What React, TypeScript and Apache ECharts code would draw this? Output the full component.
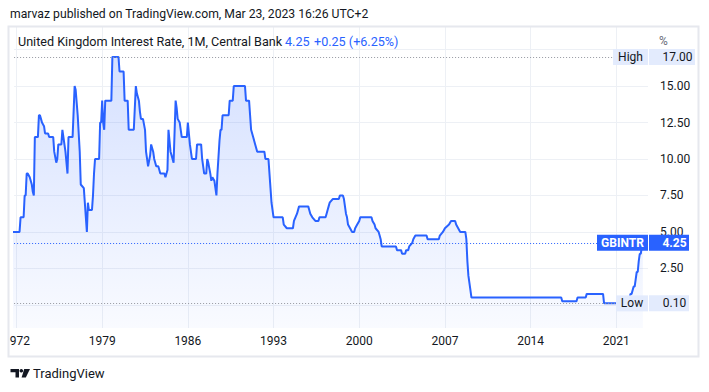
import React, { useEffect, useRef } from "react";
import * as echarts from "echarts";

// ---- data (vertices) ----
const months = [
  "1971-09", "1972-04", "1972-05", "1972-08", "1972-09", "1972-10", "1972-11", "1972-12",
  "1973-02", "1973-04", "1973-05", "1973-06", "1973-07", "1973-10", "1973-11", "1973-12",
  "1974-01", "1974-02", "1974-04", "1974-05", "1974-08", "1974-09", "1975-01", "1975-02",
  "1975-04", "1975-05", "1975-06", "1975-09", "1975-10", "1975-11", "1976-01", "1976-03",
  "1976-04", "1976-08", "1976-10", "1976-11", "1977-01", "1977-03", "1977-04", "1977-07",
  "1977-08", "1977-09", "1977-10", "1977-11", "1977-12", "1978-03", "1978-04", "1978-05",
  "1978-06", "1978-10", "1978-11", "1978-12", "1979-01", "1979-02", "1979-03", "1979-04",
  "1979-10", "1979-11", "1980-05", "1980-06", "1980-10", "1980-11", "1981-02", "1981-03",
  "1981-08", "1981-10", "1981-11", "1982-01", "1982-02", "1982-03", "1982-05", "1982-07",
  "1982-08", "1982-09", "1982-10", "1982-12", "1983-01", "1983-03", "1983-04", "1983-06",
  "1983-08", "1983-10", "1984-02", "1984-03", "1984-05", "1984-06", "1984-08", "1984-09",
  "1984-11", "1985-01", "1985-02", "1985-03", "1985-05", "1985-07", "1985-12", "1986-01",
  "1986-03", "1986-05", "1986-09", "1986-10", "1987-02", "1987-03", "1987-05", "1987-07",
  "1987-08", "1987-09", "1987-11", "1987-12", "1988-01", "1988-03", "1988-04", "1988-05",
  "1988-06", "1988-08", "1988-09", "1988-10", "1988-11", "1989-05", "1989-06", "1989-09",
  "1989-10", "1990-09", "1990-10", "1991-01", "1991-02", "1991-03", "1991-05", "1991-07",
  "1991-09", "1992-04", "1992-05", "1992-08", "1992-10", "1992-11", "1993-01", "1993-10",
  "1993-11", "1994-02", "1994-08", "1994-09", "1994-12", "1995-02", "1995-11", "1995-12",
  "1996-01", "1996-03", "1996-06", "1996-09", "1996-10", "1997-04", "1997-05", "1997-06",
  "1997-07", "1997-08", "1997-11", "1998-05", "1998-06", "1998-09", "1998-10", "1998-11",
  "1998-12", "1999-01", "1999-02", "1999-04", "1999-06", "1999-08", "1999-09", "1999-11",
  "2000-01", "2000-02", "2001-01", "2001-02", "2001-04", "2001-05", "2001-08", "2001-09",
  "2001-10", "2001-11", "2003-01", "2003-02", "2003-06", "2003-07", "2003-10", "2003-11",
  "2004-01", "2004-02", "2004-05", "2004-06", "2004-08", "2005-07", "2005-08", "2006-07",
  "2006-08", "2006-11", "2007-01", "2007-05", "2007-07", "2007-11", "2007-12", "2008-02",
  "2008-04", "2008-09", "2008-10", "2008-11", "2008-12", "2009-01", "2009-02", "2009-03",
  "2016-07", "2016-08", "2017-10", "2017-11", "2018-07", "2018-08", "2019-12", "2020-01",
  "2021-11", "2021-12", "2022-01", "2022-02", "2022-03", "2022-04", "2022-05", "2022-06",
  "2022-07", "2022-08", "2022-09", "2022-10", "2022-11", "2022-12", "2023-01", "2023-02",
  "2023-03",
];
const rates = [
  5, 5, 6, 6, 7.5, 7.5, 9, 9,
  8.75, 8.25, 7.75, 7.5, 11.5, 11.5, 13, 13,
  12.75, 12.5, 12.25, 11.75, 11.75, 11.5, 11.5, 10.5,
  9.75, 10, 11, 11, 12, 11.5, 10.5, 9,
  11.5, 11.5, 15, 14.75, 13, 10.5, 8.25, 8,
  7, 6, 5, 7, 6.5, 6.5, 7.5, 9,
  10, 10, 12.5, 12.5, 14, 12.5, 12, 14,
  14, 17, 17, 16, 16, 14, 14, 12,
  12, 15, 14.5, 14, 13.25, 12.75, 12.75, 12,
  10.5, 10, 9.5, 10.25, 11, 10.5, 10, 9.5,
  9.5, 9, 9, 8.75, 9.25, 12, 10.5, 10.25,
  9.75, 14, 13.5, 12.75, 12.5, 11.5, 11.5, 12.5,
  11, 10, 10, 11, 11, 10, 9, 9,
  10, 9.75, 9, 8.5, 8.75, 8.5, 8, 7.5,
  9, 11.25, 12, 12, 13, 13, 14, 14,
  15, 15, 14, 14, 13, 12, 11.5, 11,
  10.5, 10.5, 10, 10, 8, 7, 6, 6,
  5.5, 5.25, 5.25, 5.75, 6.25, 6.75, 6.75, 6.5,
  6.25, 6, 5.75, 5.75, 6, 6, 6.25, 6.5,
  6.75, 7, 7.25, 7.25, 7.5, 7.5, 7.25, 6.75,
  6.25, 6, 5.5, 5.25, 5, 5, 5.25, 5.5,
  5.75, 6, 6, 5.75, 5.5, 5.25, 5, 4.75,
  4.5, 4, 4, 3.75, 3.75, 3.5, 3.5, 3.75,
  3.75, 4, 4.25, 4.5, 4.75, 4.75, 4.5, 4.5,
  4.75, 5, 5.25, 5.5, 5.75, 5.75, 5.5, 5.25,
  5, 5, 4.5, 3, 2, 1.5, 1, 0.5,
  0.5, 0.25, 0.25, 0.5, 0.5, 0.75, 0.75, 0.1,
  0.1, 0.25, 0.25, 0.5, 0.75, 0.75, 1, 1.25,
  1.25, 1.75, 2.25, 2.25, 3, 3.5, 3.5, 4,
  4.25,
];
const yearTicks = [1972, 1979, 1986, 1993, 2000, 2007, 2014, 2021];
const priceTicks = [2.5, 5, 7.5, 10, 12.5, 15];
const priceGrid = [0, 2.5, 5, 7.5, 10, 12.5, 15, 17.5];
const highValue = 17;
const lowValue = 0.1;
const lastValue = 4.25;
const changeText = "+0.25 (+6.25%)";
const tickerName = "GBINTR";
const titleText = "United Kingdom Interest Rate, 1M, Central Bank";
const headerText = "marvaz published on TradingView.com, Mar 23, 2023 16:26 UTC+2";

const FONT = "Roboto, 'Open Sans', sans-serif";
const BLUE = "#2962ff";
const DARK = "#131722";
const LABEL_BG = "#e3ebfd";
const GRID = "#edf0f5";

const toYear = (m: string) => {
  const [y, mo] = m.split("-").map(Number);
  return y + (mo - 1) / 12;
};

export default function App() {
  const ref = useRef<HTMLDivElement>(null);
  useEffect(() => {
    if (!ref.current) return;
    const chart = echarts.init(ref.current, null, { renderer: "svg" });
    const data = months.map((m, i) => [toYear(m), rates[i]]);

    const boxLabel = (name: string, value: number, nameW: number, valueW: number, filled: boolean) => ({
      show: true,
      position: "end",
      distance: -nameW,
      formatter: `{a|${name}}{g|}{b|${value.toFixed(2)}}`,
      rich: {
        a: {
          backgroundColor: filled ? BLUE : LABEL_BG,
          color: filled ? "#ffffff" : DARK,
          fontFamily: FONT,
          fontSize: 12,
          fontWeight: filled ? "bold" : "normal",
          width: nameW,
          height: 16,
          lineHeight: 16,
          align: "center",
        },
        g: { width: 1, height: 16 },
        b: {
          backgroundColor: filled ? BLUE : LABEL_BG,
          color: filled ? "#ffffff" : DARK,
          fontFamily: FONT,
          fontSize: 12,
          fontWeight: filled ? "bold" : "normal",
          width: valueW - 11,
          height: 16,
          lineHeight: 16,
          padding: [0, 0, 0, 11],
          align: "left",
        },
      },
    });

    const option: any = {
      animation: false,
      grid: { left: 9.5, right: 61, top: 27, bottom: 64, containLabel: false },
      xAxis: {
        type: "value",
        min: 1971.805,
        max: 2023.589,
        axisLine: { show: false },
        axisTick: { show: false, customValues: yearTicks },
        splitLine: { show: true, lineStyle: { color: GRID, width: 1, type: "solid" } },
        axisLabel: {
          customValues: yearTicks,
          formatter: (v: number) => String(v),
          color: DARK,
          fontSize: 12,
          fontFamily: FONT,
          margin: 7,
        },
      },
      yAxis: {
        type: "value",
        position: "right",
        min: -1.59,
        max: 19.05,
        axisLine: { show: false },
        axisTick: { show: false, customValues: priceGrid },
        splitLine: { show: true, lineStyle: { color: GRID, width: 1, type: "solid" } },
        axisLabel: {
          customValues: priceTicks,
          formatter: (v: number) => v.toFixed(2),
          color: DARK,
          fontSize: 12,
          fontFamily: FONT,
          margin: 12,
        },
      },
      series: [
        {
          type: "line",
          data,
          z: 2,
          showSymbol: false,
          symbol: "none",
          lineStyle: { color: BLUE, width: 2 },
          areaStyle: {
            origin: "start",
            color: new echarts.graphic.LinearGradient(0, 0, 0, 1, [
              { offset: 0, color: "rgba(41,98,255,0.28)" },
              { offset: 1, color: "rgba(41,98,255,0.04)" },
            ]),
          },
        },
        {
          type: "line",
          data: [],
          z: 5,
          silent: true,
          markLine: {
            silent: true,
            symbol: ["none", "none"],
            data: [
              {
                yAxis: highValue,
                lineStyle: { color: "#9598a1", width: 1, type: [1, 2] },
                label: boxLabel("High", highValue, 35, 46, false),
              },
              {
                yAxis: lowValue,
                lineStyle: { color: "#9598a1", width: 1, type: [1, 2] },
                label: boxLabel("Low", lowValue, 32, 40, false),
              },
              {
                yAxis: lastValue,
                lineStyle: { color: BLUE, width: 1, type: [1, 2] },
                label: boxLabel(tickerName, lastValue, 51, 40, true),
              },
            ],
          },
        },
      ],
      graphic: [
        {
          type: "rect",
          z: 100,
          shape: { x: 0, y: 328, width: 9, height: 29 },
          style: { fill: "#ffffff" },
        },
        {
          type: "rect",
          z: 101,
          shape: { x: 8.5, y: 26.5, width: 690, height: 330 },
          style: { fill: "none", stroke: "#e6e8ee", lineWidth: 2 },
        },
        {
          type: "text",
          z: 101,
          x: 10,
          y: 14,
          style: { text: headerText, fill: DARK, font: `12.2px ${FONT}`, verticalAlign: "middle" },
        },
        {
          type: "text",
          z: 101,
          x: 18,
          y: 41,
          style: { text: titleText, fill: DARK, font: `12.6px ${FONT}`, verticalAlign: "middle" },
        },
        {
          type: "text",
          z: 101,
          x: 285,
          y: 41,
          style: { text: lastValue.toFixed(2), fill: BLUE, font: `12.6px ${FONT}`, verticalAlign: "middle" },
        },
        {
          type: "text",
          z: 101,
          x: 314,
          y: 41,
          style: { text: changeText, fill: BLUE, font: `12.6px ${FONT}`, verticalAlign: "middle" },
        },
        {
          type: "text",
          z: 101,
          x: 659,
          y: 41,
          style: { text: "%", fill: "#6a6d78", font: `12px ${FONT}`, verticalAlign: "middle" },
        },
        {
          type: "polygon",
          z: 101,
          shape: { points: [[10.5, 369], [19, 369], [19, 377.5], [15.5, 377.5], [15.5, 372.3], [10.5, 372.3]] },
          style: { fill: DARK },
        },
        {
          type: "circle",
          z: 101,
          shape: { cx: 21.3, cy: 370.8, r: 1.8 },
          style: { fill: DARK },
        },
        {
          type: "polygon",
          z: 101,
          shape: { points: [[24.2, 369], [30, 369], [25.8, 377.5], [21.6, 377.5]] },
          style: { fill: DARK },
        },
        {
          type: "text",
          z: 101,
          x: 33,
          y: 373.5,
          style: { text: "TradingView", fill: DARK, font: `13px ${FONT}`, verticalAlign: "middle" },
        },
      ],
    };
    chart.setOption(option);
    return () => chart.dispose();
  }, []);
  return (
    <div
      ref={ref}
      style={{ position: "fixed", left: 0, top: 0, width: 709, height: 392, background: "#ffffff" }}
    />
  );
}
